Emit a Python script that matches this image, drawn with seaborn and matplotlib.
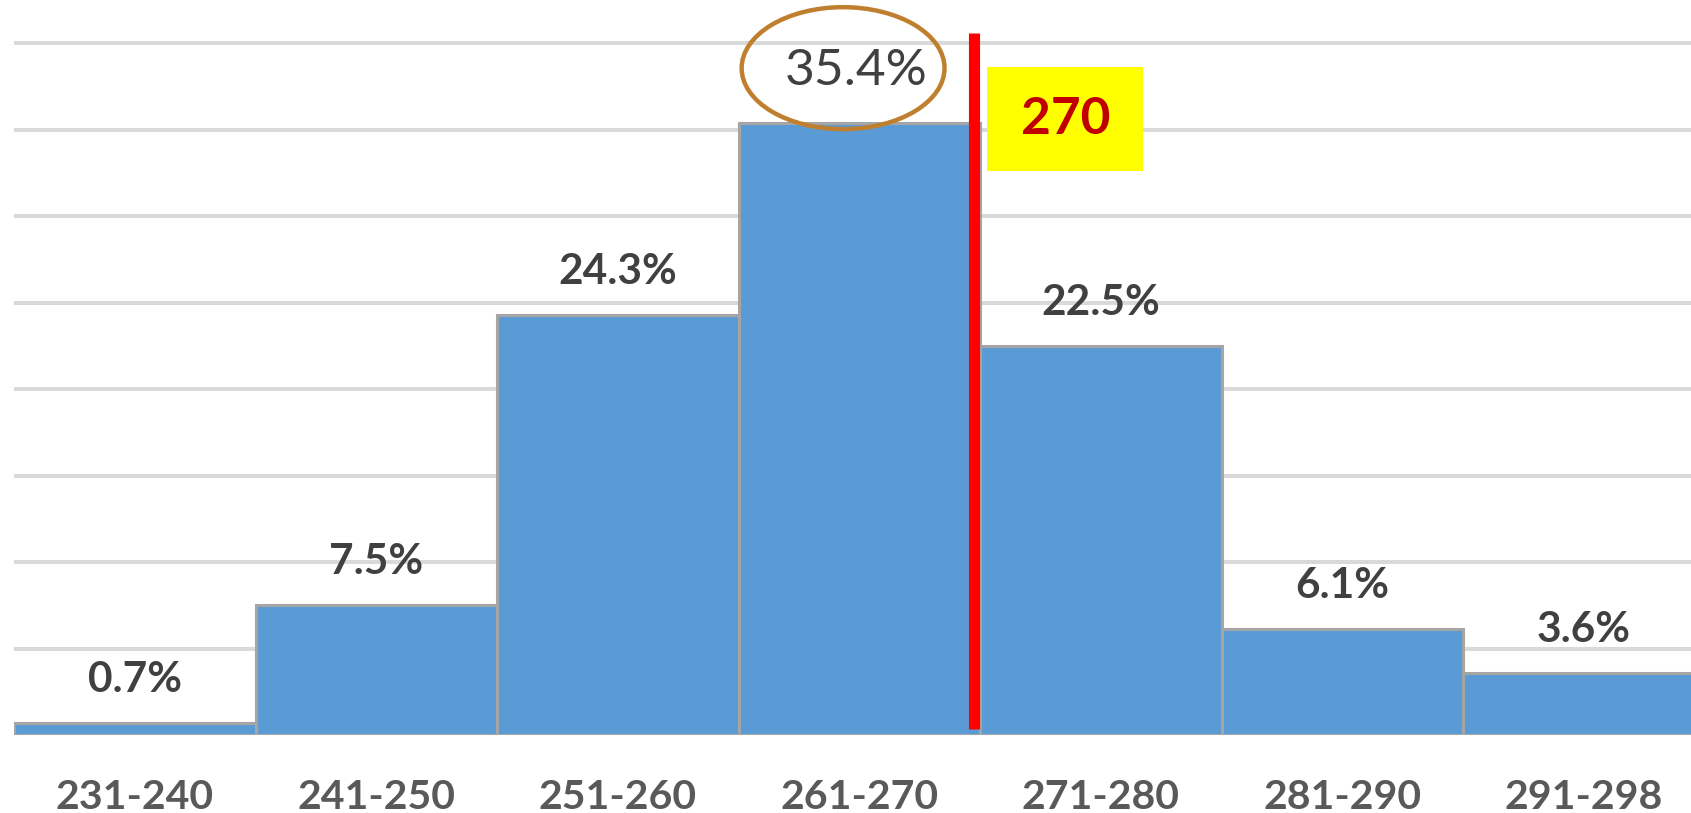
import pandas as pd
import seaborn as sns
import matplotlib.pyplot as plt
from matplotlib.patches import Ellipse, Rectangle

# data
bins = ['231-240', '241-250', '251-260', '261-270', '271-280', '281-290', '291-298']
share = [0.7, 7.5, 24.3, 35.4, 22.5, 6.1, 3.6]
labels = ['0.7%', '7.5%', '24.3%', '35.4%', '22.5%', '6.1%', '3.6%']
marker_value = '270'

df = pd.DataFrame({'bin': bins, 'share': share})

sns.set_style('white')
plt.rcParams['font.family'] = ['Lato', 'DejaVu Sans']

fig = plt.figure(figsize=(16.91, 8.13), dpi=100)
ax = fig.add_axes([14 / 1691, 78 / 813, 1 - 14 / 1691, 735 / 813])

sns.barplot(data=df, x='bin', y='share', color='#5B9BD5', saturation=1,
            width=1.0, edgecolor='#A5A5A5', linewidth=2.2, ax=ax, zorder=3)

ax.set_xlim(-0.5, 6.444)
ax.set_ylim(0, 42.49)
ax.set_yticks(range(0, 45, 5))
ax.yaxis.grid(True, color='#D9D9D9', linewidth=2.9)
ax.set_axisbelow(True)
ax.tick_params(axis='y', left=False, labelleft=False)
ax.tick_params(axis='x', bottom=False, pad=28)
for s in ax.spines.values():
    s.set_visible(False)
ax.set_xlabel('')
ax.set_ylabel('')
ax.set_xticks(range(len(bins)))
ax.set_xticklabels(bins, fontsize=29.5, fontweight='bold', color='#595959')

# value labels above bars
for i, (v, lab) in enumerate(zip(share, labels)):
    if i == 3:
        ax.annotate(lab, (i, v), xytext=(-2, 37), textcoords='offset points',
                    ha='center', va='center', fontsize=37, color='#404040')
    else:
        ax.annotate(lab, (i, v), xytext=(0, 31), textcoords='offset points',
                    ha='center', va='center', fontsize=30.5, fontweight='bold',
                    color='#404040')

# highlight ellipse around the peak label
ax.add_patch(Ellipse((2.933, 38.55), 0.84, 7.05, fill=False,
                     edgecolor='#BF7F2F', linewidth=3.2, clip_on=False, zorder=5))

# red marker line at 270
ax.plot([3.475, 3.475], [0.35, 40.6], color='#FF0000', linewidth=8,
        solid_capstyle='butt', zorder=6)

# yellow label box
ax.add_patch(Rectangle((3.53, 32.6), 0.646, 6.0, facecolor='#FFFF00',
                       edgecolor='none', zorder=6))
ax.text(3.853, 35.6, marker_value, ha='center', va='center', fontsize=37,
        fontweight='bold', color='#C00000', zorder=7)

fig.savefig('out.png', dpi=100)
